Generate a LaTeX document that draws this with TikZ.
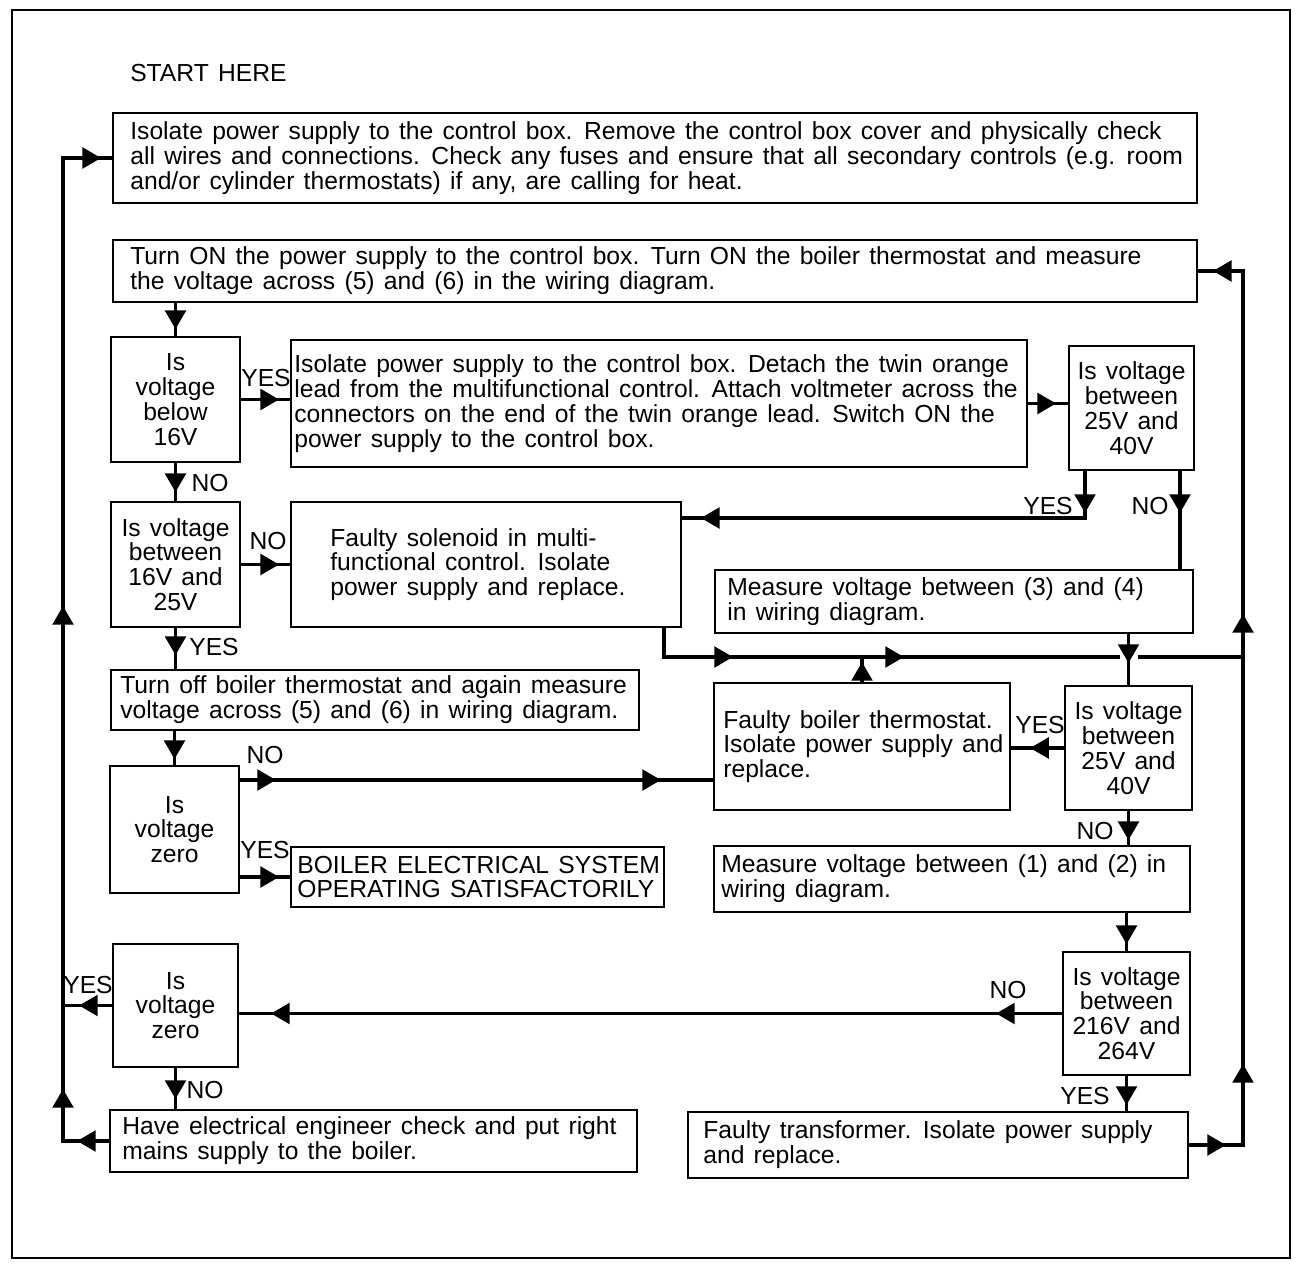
\documentclass[tikz,border=0pt]{standalone}
\usepackage{fontspec}
\setmainfont{Liberation Sans}[WordSpace=1.35]
\usetikzlibrary{arrows.meta,decorations.markings,fit}
\tikzset{
  box/.style={draw, line width=1.4pt, inner sep=0pt},
  txt/.style={inner sep=0pt, align=left, font=\fontsize{18.5}{18.6}\selectfont},
  ctxt/.style={txt, align=center},
  lab/.style={inner sep=0pt, font=\fontsize{18.5}{18.5}\selectfont},
  conn/.style={line width=2.6pt},
  tipat/.style={postaction={decorate,decoration={markings,mark=at position #1 with {\arrow{Triangle[length=14pt,width=15.5pt]}}}}},
}
\begin{document}
\begin{tikzpicture}[x=0.75pt,y=-0.75pt]
\useasboundingbox (0,0) rectangle (1298,1263);
\draw[line width=2.2pt] (12,10) rectangle (1290,1258);

\node[lab, anchor=west] (start) at (130,73) {START HERE};

% boxes
\node[box, fit={(113,113) (1197,203)}] (A) {};
\node[box, fit={(113,240) (1197,302)}] (B) {};
\node[box, fit={(111,337) (240,462)}] (C) {};
\node[box, fit={(291,340) (1027,467)}] (D) {};
\node[box, fit={(1069,346) (1194,470)}] (E) {};
\node[box, fit={(111,502) (240,627)}] (C2) {};
\node[box, fit={(291,502) (681,627)}] (F) {};
\node[box, fit={(715,570) (1193,633)}] (H) {};
\node[box, fit={(111,670) (639,730)}] (G) {};
\node[box, fit={(714,683) (1010,810)}] (I) {};
\node[box, fit={(1065,686) (1192,810)}] (J) {};
\node[box, fit={(110,766) (239,893)}] (K) {};
\node[box, fit={(291,847) (664,907)}] (L) {};
\node[box, fit={(714,846) (1190,912)}] (M) {};
\node[box, fit={(1063,952) (1190,1075)}] (N) {};
\node[box, fit={(113,944) (238,1067)}] (O) {};
\node[box, fit={(110,1110) (637,1172)}] (P) {};
\node[box, fit={(688,1112) (1188,1178)}] (Q) {};

% texts
\node[txt, anchor=west] at ([xshift=13.5pt]A.west) {Isolate power supply to the control box. Remove the control box cover and physically check\\all wires and connections. Check any fuses and ensure that all secondary controls (e.g. room\\and/or cylinder thermostats) if any, are calling for heat.};
\node[txt, anchor=west] at ([xshift=13.5pt]B.west) {Turn ON the power supply to the control box. Turn ON the boiler thermostat and measure\\the voltage across (5) and (6) in the wiring diagram.};
\node[ctxt] at (C.center) {Is\\voltage\\below\\16V};
\node[txt, anchor=west] at ([xshift=3pt]D.west) {Isolate power supply to the control box. Detach the twin orange\\lead from the multifunctional control. Attach voltmeter across the\\connectors on the end of the twin orange lead. Switch ON the\\power supply to the control box.};
\node[ctxt] at (E.center) {Is voltage\\between\\25V and\\40V};
\node[ctxt] at (C2.center) {Is voltage\\between\\16V and\\25V};
\node[txt, anchor=west] at ([xshift=30pt]F.west) {Faulty solenoid in multi-\\functional control. Isolate\\power supply and replace.};
\node[txt, anchor=west] at ([xshift=9.75pt]H.west) {Measure voltage between (3) and (4)\\in wiring diagram.};
\node[txt, anchor=west] at ([xshift=7.5pt]G.west) {Turn off boiler thermostat and again measure\\voltage across (5) and (6) in wiring diagram.};
\node[txt, anchor=west] at ([xshift=7.5pt]I.west) {Faulty boiler thermostat.\\Isolate power supply and\\replace.};
\node[ctxt] at (J.center) {Is voltage\\between\\25V and\\40V};
\node[ctxt] at (K.center) {Is\\voltage\\zero};
\node[txt, anchor=west] at ([xshift=5.25pt]L.west) {BOILER ELECTRICAL SYSTEM\\OPERATING SATISFACTORILY};
\node[txt, anchor=west] at ([xshift=6pt]M.west) {Measure voltage between (1) and (2) in\\wiring diagram.};
\node[ctxt] at (N.center) {Is voltage\\between\\216V and\\264V};
\node[ctxt] at (O.center) {Is\\voltage\\zero};
\node[txt, anchor=west] at ([xshift=9.75pt]P.west) {Have electrical engineer check and put right\\mains supply to the boiler.};
\node[txt, anchor=west] at ([xshift=12pt]Q.west) {Faulty transformer. Isolate power supply\\and replace.};

% helper coordinates
\coordinate (lx) at (63,0);
\coordinate (rx) at (1243,0);
\coordinate (ey) at (1085,518);
\coordinate (en) at (1180,0);
\coordinate (kn) at (0,780);
\coordinate (fb) at (664,657);
\coordinate (hopL) at (1120,657);
\coordinate (hopR) at (1138,657);

% connectors
\draw[conn, tipat=24pt, tipat=73.5pt, tipat=435.75pt, tipat=-8.25pt] (P.west) -| (lx |- A.west) -- (A.west);
\draw[conn, tipat=27.75pt, tipat=101.25pt, tipat=438.75pt, tipat=-11.25pt] (Q.east) -| (rx |- B.east) -- (B.east);
\draw[conn, tipat=-5.25pt] (B.south -| C.north) -- (C.north);
\draw[conn, tipat=-8.25pt] (C.east) -- (C.east -| D.west);
\draw[conn, tipat=-9pt] (D.east) -- (D.east -| E.west);
\draw[conn, tipat=31.5pt, tipat=-14.25pt] (E.south -| ey) -- (ey) -- (ey -| F.east);
\draw[conn, tipat=31.5pt] (E.south -| en) -- (H.north -| en);
\draw[conn, tipat=-6.75pt] (C.south) -- (C2.north);
\draw[conn, tipat=-8.25pt] (C2.east) -- (C2.east -| F.west);
\draw[conn, tipat=-10.5pt] (C2.south) -- (C2.south |- G.north);
\draw[conn, tipat=-4.5pt] (K.north |- G.south) -- (K.north);
\draw[conn, tipat=73.5pt, tipat=201.75pt] (F.south -| fb) -- (fb) -- (hopL);
\draw[conn] (hopR) -- (rx |- hopR);
\draw[conn, tipat=21.75pt] (H.south -| J.north) -- (J.north);
\draw[conn, tipat=15pt] (I.north) -- (I.north |- fb);
\draw[conn, tipat=25.5pt] (J.west) -- (J.west -| I.east);
\draw[conn, tipat=27pt, tipat=315.75pt] (K.east |- kn) -- (I.west |- kn);
\draw[conn, tipat=-8.25pt] (K.east |- L.west) -- (L.west);
\draw[conn, tipat=-3.75pt] (J.south) -- (J.south |- M.north);
\draw[conn, tipat=-5.25pt] (M.south -| N.north) -- (N.north);
\draw[conn, tipat=49.5pt, tipat=593.25pt] (N.west) -- (N.west -| O.east);
\draw[conn, tipat=24.75pt] (O.west) -- (O.west -| lx);
\draw[conn, tipat=23.25pt] (O.south) -- (O.south |- P.north);
\draw[conn, tipat=21.75pt] (N.south) -- (N.south |- Q.north);

% branch labels
\node[lab] at (266,378) {YES};
\node[lab] at (210,483) {NO};
\node[lab] at (1048,506) {YES};
\node[lab] at (1150,506) {NO};
\node[lab] at (268,541) {NO};
\node[lab] at (214,647) {YES};
\node[lab] at (1040,725) {YES};
\node[lab] at (265,755) {NO};
\node[lab] at (265,850) {YES};
\node[lab] at (1095,831) {NO};
\node[lab] at (1008,990) {NO};
\node[lab] at (88,985) {YES};
\node[lab] at (205,1090) {NO};
\node[lab] at (1085,1096) {YES};
\end{tikzpicture}
\end{document}
